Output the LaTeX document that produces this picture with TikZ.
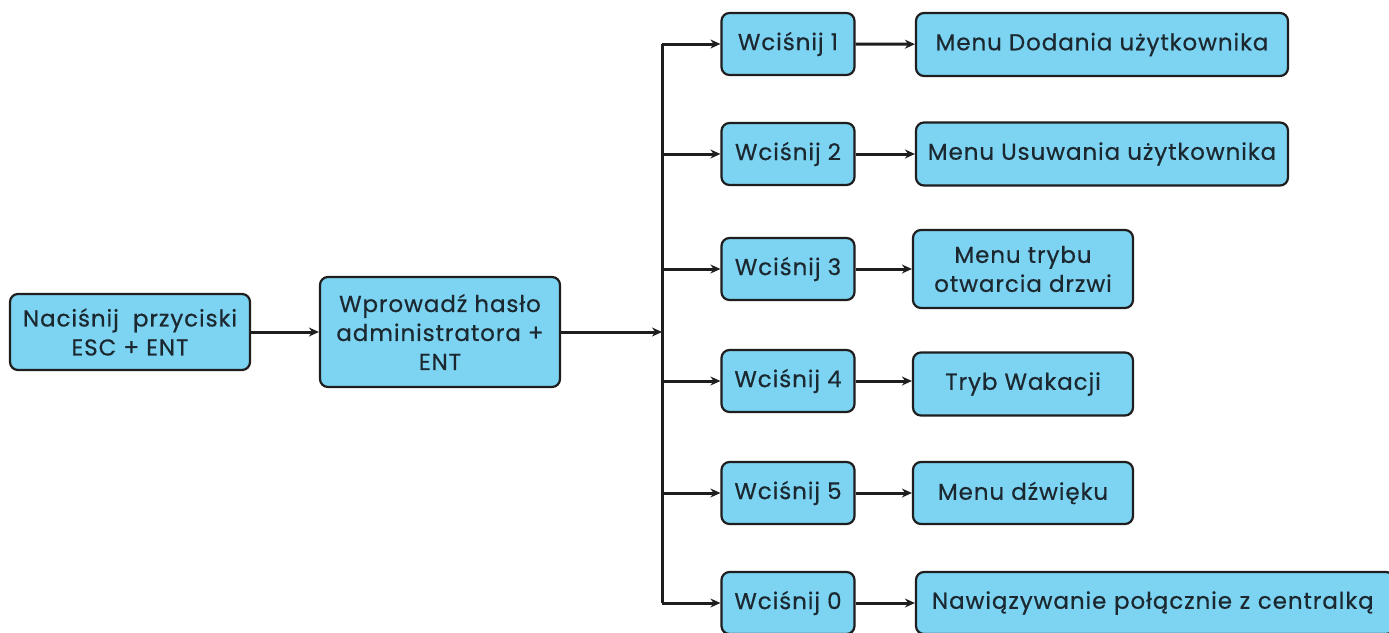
\documentclass[tikz,border=0pt]{standalone}
\usepackage{fontspec}
\setmainfont[LetterSpace=4,FakeBold=0.5]{Poppins}
\usetikzlibrary{arrows.meta}
\definecolor{boxfill}{RGB}{125,211,242}
\definecolor{boxline}{RGB}{30,30,30}
\definecolor{txt}{RGB}{28,40,48}
\begin{document}
\begin{tikzpicture}[x=1pt,y=-1pt,
  box/.style={draw=boxline,fill=boxfill,line width=2.2pt,rounded corners=8pt,
    align=center,text=txt,font=\fontsize{23}{29}\selectfont,inner sep=0pt},
  conn/.style={draw=boxline,line width=3pt,-{Stealth[length=10pt,width=9pt]}},
  plain/.style={draw=boxline,line width=3pt}]
\useasboundingbox (0,0) rectangle (1389,632);
\fill[white] (0,0) rectangle (1389,632);
\node[box,minimum width=240pt,minimum height=76pt] (A) at (130,332) {Naciśnij\ \ przyciski\\ESC + ENT};
\node[box,minimum width=240pt,minimum height=110pt] (B) at (440,332) {Wprowadź hasło\\administratora +\\ENT};
\foreach \n/\y in {1/44,2/154,3/269,4/381,5/493,0/603}{
  \node[box,minimum width=133pt,minimum height=62pt] (W\n) at (788,\y) {Wciśnij \n};
  \coordinate (J\n) at (662,\y);
}
\node[box,minimum width=372pt,minimum height=63pt] (R1) at (1102,44.5) {Menu Dodania użytkownika};
\node[box,minimum width=372pt,minimum height=63pt] (R2) at (1102,154) {Menu Usuwania użytkownika};
\node[box,minimum width=220pt,minimum height=78pt] (R3) at (1023,269) {Menu trybu\\otwarcia drzwi};
\node[box,minimum width=220pt,minimum height=63pt] (R4) at (1023,384) {Tryb Wakacji};
\node[box,minimum width=220pt,minimum height=62pt] (R5) at (1023,493) {Menu dźwięku};
\node[box,minimum height=62pt,text width=446pt,inner xsep=16pt,align=left] (R0) at (1155,603) {Nawiązywanie połącznie z centralką};
\coordinate (JB) at (662,332);
\draw[conn] (A) -- (B);
\draw[conn] (B) -- (JB);
\draw[plain] (J1) -- (J0);
\foreach \n in {1,2,3,4,5,0}{
  \draw[conn] (J\n) -- (W\n);
}
\draw[conn] (W1) -- (R1);
\draw[conn] (W2) -- (R2);
\draw[conn] (W3) -- (R3);
\draw[conn] (W4) -- (W4 -| R4.west);
\draw[conn] (W5) -- (R5);
\draw[conn] (W0) -- (R0);
\end{tikzpicture}
\end{document}
